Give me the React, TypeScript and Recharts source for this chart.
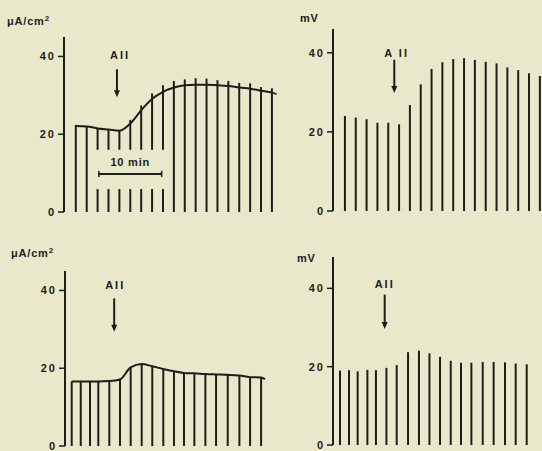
import { Bar, ComposedChart, Line, ReferenceLine, XAxis, YAxis } from 'recharts'

const INK = '#1d1d1b'
const PAPER = '#eae8cb'
const FONT = '"Liberation Sans", Arial, sans-serif'

// top left: current, µA/cm2, one sample per step
const tlBars = [22.4, 22.1, 21.6, 21.3, 21.1, 23.7, 27.4, 30.5, 32.6, 33.7, 34.1, 34.4, 34.3, 33.9, 33.7, 33.2, 33.1, 32.1, 31.8]
const tlCurve = [22.1, 22.0, 21.5, 21.2, 20.9, 22.8, 26.2, 29.1, 30.9, 32.0, 32.6, 32.7, 32.7, 32.6, 32.4, 32.0, 31.7, 31.2, 30.7]
const tlCurveEnd = { t: 18.4, v: 30.3 }
// bars broken where the 10 min scale sits
const tlBroken = [2, 3, 4, 5, 6, 7, 8]
const tlBreakFrom = 5.9
const tlBreakTo = 16

// top right: mV
const trVolts = [24.0, 23.6, 23.2, 22.3, 22.3, 21.9, 26.8, 32.0, 35.9, 37.6, 38.4, 38.6, 38.2, 37.7, 37.3, 36.3, 35.6, 34.8, 34.1]

// bottom left: current, sample times are uneven at the start
const blTimes = [0, 0.83, 1.68, 2.44, 3.45, 4.43, 5.41, 6.42, 7.39, 8.4, 9.38, 10.3, 11.25, 12.26, 13.24, 14.31, 15.38, 16.36, 17.37]
const blCurrent = [16.6, 16.6, 16.6, 16.6, 16.7, 17.1, 20.2, 21.1, 20.5, 19.8, 19.2, 18.8, 18.7, 18.5, 18.4, 18.3, 18.1, 17.7, 17.6]
const blCurveEnd = { t: 17.73, v: 17.2 }

// bottom right: mV
const brTimes = [0, 0.84, 1.65, 2.56, 3.36, 4.34, 5.3, 6.36, 7.38, 8.36, 9.35, 10.35, 11.31, 12.28, 13.34, 14.36, 15.42, 16.42, 17.45]
const brVolts = [19.0, 19.1, 18.8, 19.2, 19.1, 19.7, 20.4, 23.7, 24.1, 23.4, 22.5, 21.5, 21.0, 21.0, 21.2, 21.2, 21.1, 20.8, 20.6]

const yTicks = [0, 20, 40]

const tlData = [
  ...tlBars.map((b, i) => {
    const broken = tlBroken.includes(i)
    return {
      t: i,
      lo: broken ? tlBreakFrom : b,
      gap: broken ? tlBreakTo - tlBreakFrom : 0,
      hi: broken ? b - tlBreakTo : 0,
      curve: tlCurve[i],
    }
  }),
  { t: tlCurveEnd.t, curve: tlCurveEnd.v },
]
const trData = trVolts.map((v, i) => ({ t: i, v }))
const blData = [
  ...blTimes.map((t, i) => ({ t, v: blCurrent[i], curve: blCurrent[i] })),
  { t: blCurveEnd.t, curve: blCurveEnd.v },
]
const brData = brTimes.map((t, i) => ({ t, v: brVolts[i] }))

const textStyle = { fill: INK, fontFamily: FONT, fontWeight: 700 }

function arrowShape(label: string, dx: number, dy: number) {
  return (p: any) => {
    const { x1, y1, y2 } = p
    return (
      <g>
        <text x={x1 + dx} y={y1 + dy} fontSize={11} letterSpacing={2} {...textStyle}>
          {label}
        </text>
        <line x1={x1} x2={x1} y1={y1} y2={y2 - 6} stroke={INK} strokeWidth={2} />
        <path d={`M${x1 - 3},${y2 - 7}L${x1 + 3},${y2 - 7}L${x1},${y2}Z`} fill={INK} />
      </g>
    )
  }
}

function scaleShape(p: any) {
  const { x1, x2, y1 } = p
  return (
    <g>
      <line x1={x1} x2={x2} y1={y1} y2={y1} stroke={INK} strokeWidth={2} />
      <line x1={x1} x2={x1} y1={y1 - 3} y2={y1 + 3} stroke={INK} strokeWidth={1.5} />
      <line x1={x2} x2={x2} y1={y1 - 3} y2={y1 + 3} stroke={INK} strokeWidth={1.5} />
      <text x={(x1 + x2) / 2} y={y1 - 8} textAnchor="middle" fontSize={11} letterSpacing={0.8} {...textStyle}>
        10 min
      </text>
    </g>
  )
}

interface PanelProps {
  left: number
  top: number
  width: number
  height: number
  margin: { top: number; right: number; bottom: number; left: number }
  axisWidth: number
  xDomain: [number, number]
  yMax: number
  data: any[]
  stacked?: boolean
  curve?: boolean
  arrow: { t: number; from: number; to: number; label: string; dx: number; dy: number }
  scaleBar?: { from: number; to: number; y: number }
}

function Panel(p: PanelProps) {
  return (
    <div style={{ position: 'absolute', left: p.left, top: p.top }}>
      <ComposedChart width={p.width} height={p.height} data={p.data} margin={p.margin}>
        <XAxis type="number" dataKey="t" domain={p.xDomain} allowDataOverflow hide />
        <YAxis
          type="number"
          domain={[0, p.yMax]}
          allowDataOverflow
          ticks={yTicks}
          interval={0}
          width={p.axisWidth}
          tickSize={6}
          tickMargin={2}
          axisLine={{ stroke: INK, strokeWidth: 2 }}
          tickLine={{ stroke: INK, strokeWidth: 1.5 }}
          tick={{ ...textStyle, fontSize: 11, letterSpacing: 2 }}
        />
        {p.stacked ? (
          [
            <Bar key="lo" dataKey="lo" stackId="s" fill={INK} barSize={2} isAnimationActive={false} />,
            <Bar key="gap" dataKey="gap" stackId="s" fill="transparent" barSize={2} isAnimationActive={false} />,
            <Bar key="hi" dataKey="hi" stackId="s" fill={INK} barSize={2} isAnimationActive={false} />,
          ]
        ) : (
          <Bar dataKey="v" fill={INK} barSize={2} isAnimationActive={false} />
        )}
        {p.curve && (
          <Line
            type="monotone"
            dataKey="curve"
            stroke={INK}
            strokeWidth={2}
            dot={false}
            connectNulls
            isAnimationActive={false}
          />
        )}
        <ReferenceLine
          segment={[
            { x: p.arrow.t, y: p.arrow.from },
            { x: p.arrow.t, y: p.arrow.to },
          ]}
          ifOverflow="visible"
          shape={arrowShape(p.arrow.label, p.arrow.dx, p.arrow.dy)}
        />
        {p.scaleBar && (
          <ReferenceLine
            segment={[
              { x: p.scaleBar.from, y: p.scaleBar.y },
              { x: p.scaleBar.to, y: p.scaleBar.y },
            ]}
            ifOverflow="visible"
            shape={scaleShape}
          />
        )}
      </ComposedChart>
    </div>
  )
}

function Unit({ x, y, label, sup }: { x: number; y: number; label: string; sup?: string }) {
  return (
    <text x={x} y={y} fontSize={11} letterSpacing={0.8} {...textStyle}>
      {label}
      {sup && (
        <tspan dy={-4} fontSize={8}>
          {sup}
        </tspan>
      )}
    </text>
  )
}

export default function App() {
  return (
    <div
      style={{
        position: 'absolute',
        left: 0,
        top: 0,
        width: 542,
        height: 451,
        background: PAPER,
        overflow: 'hidden',
      }}
    >
      <Panel
        left={0}
        top={0}
        width={283}
        height={225}
        margin={{ top: 37, right: 0, bottom: 13, left: 0 }}
        axisWidth={64}
        xDomain={[-1.1, 19]}
        yMax={45}
        data={tlData}
        stacked
        curve
        arrow={{ t: 3.76, from: 36.7, to: 29.5, label: 'AII', dx: -7, dy: -10 }}
        scaleBar={{ from: 2.1, to: 7.86, y: 9.8 }}
      />
      <Panel
        left={281}
        top={0}
        width={261}
        height={225}
        margin={{ top: 29, right: 0, bottom: 14, left: 0 }}
        axisWidth={52}
        xDomain={[-1.14, 18.16]}
        yMax={46}
        data={trData}
        arrow={{ t: 4.52, from: 38.2, to: 29.8, label: 'A II', dx: -10, dy: -3 }}
      />
      <Panel
        left={0}
        top={230}
        width={270}
        height={221}
        margin={{ top: 41, right: 0, bottom: 5, left: 0 }}
        axisWidth={65}
        xDomain={[-0.61, 18.19]}
        yMax={45}
        data={blData}
        curve
        arrow={{ t: 3.9, from: 37.95, to: 29.4, label: 'AII', dx: -9, dy: -9 }}
      />
      <Panel
        left={281}
        top={230}
        width={254}
        height={221}
        margin={{ top: 27, right: 0, bottom: 6, left: 0 }}
        axisWidth={52}
        xDomain={[-0.68, 18.2]}
        yMax={48}
        data={brData}
        arrow={{ t: 4.15, from: 38.4, to: 29.6, label: 'AII', dx: -10, dy: -7 }}
      />
      <svg width={542} height={451} style={{ position: 'absolute', left: 0, top: 0, pointerEvents: 'none' }}>
        <Unit x={7} y={25} label="μA/cm" sup="2" />
        <Unit x={300} y={22} label="mV" />
        <Unit x={11} y={257} label="μA/cm" sup="2" />
        <Unit x={297} y={262} label="mV" />
      </svg>
    </div>
  )
}
